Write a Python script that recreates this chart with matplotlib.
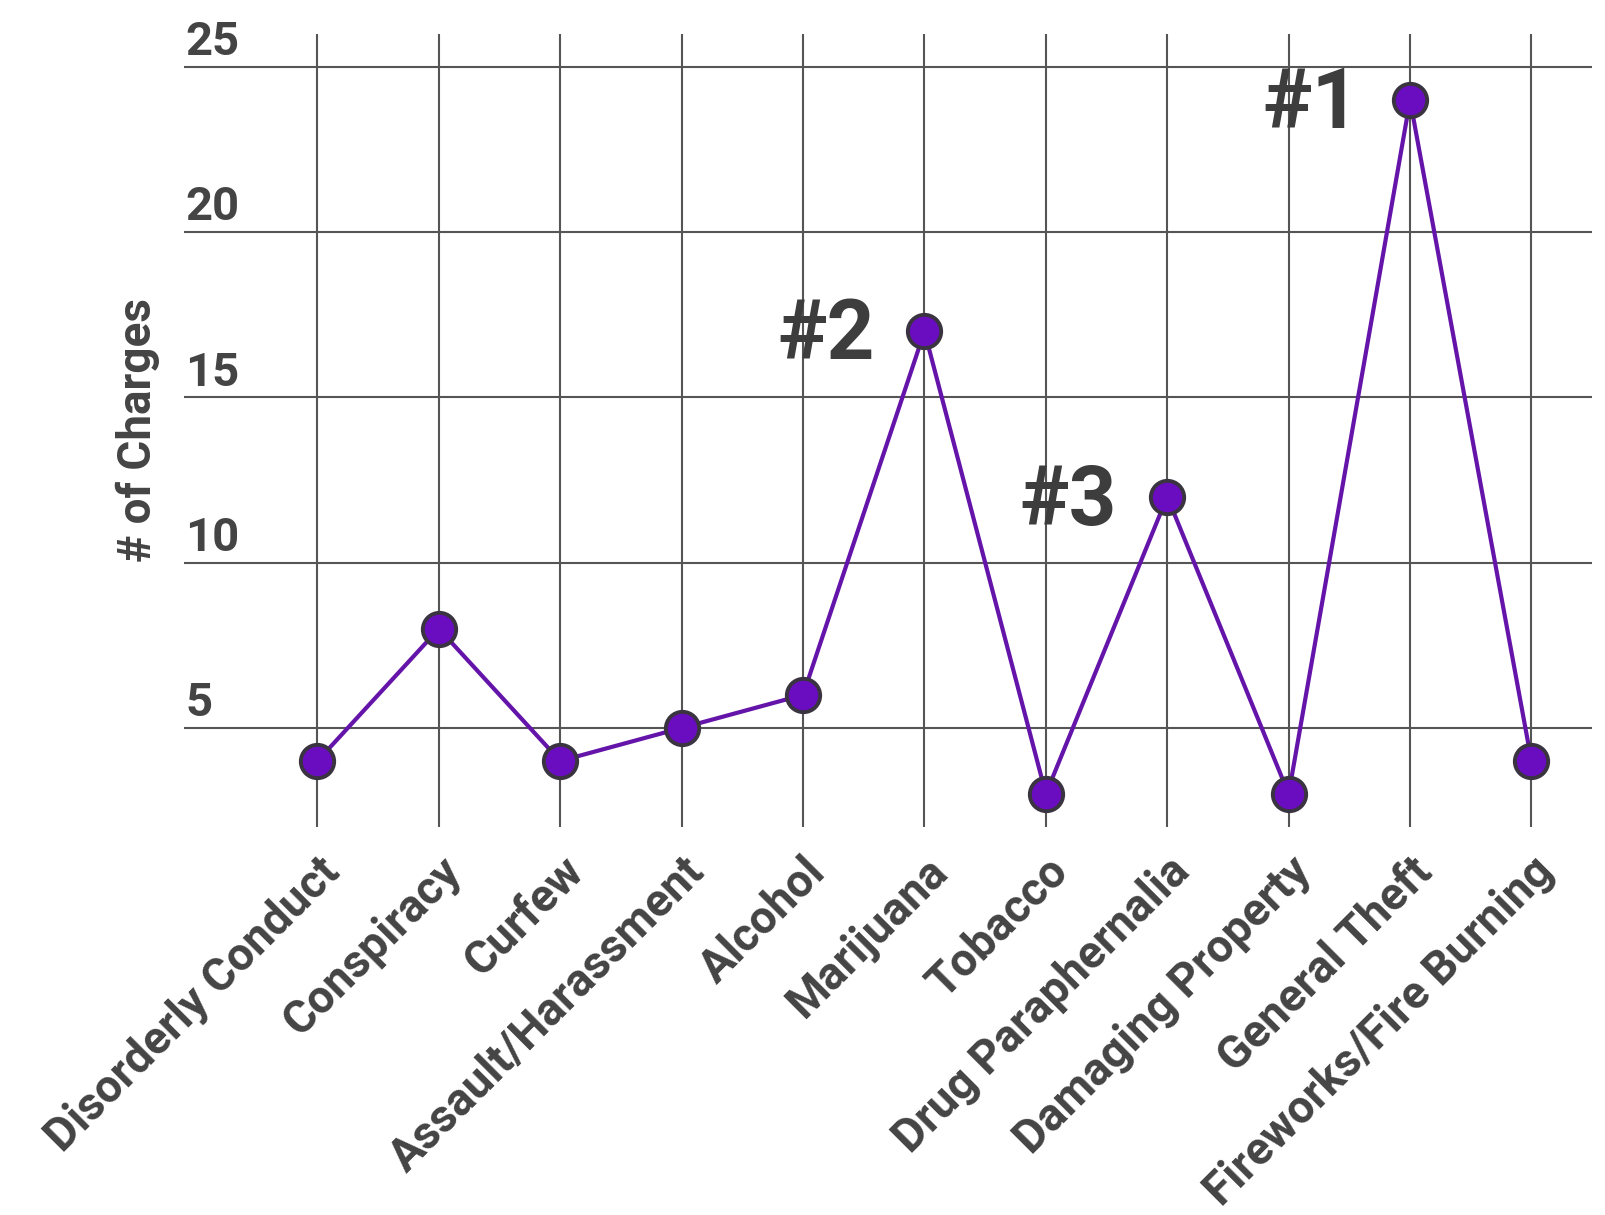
import matplotlib

matplotlib.use("Agg")
import matplotlib.pyplot as plt
from matplotlib.transforms import ScaledTranslation

categories = [
    "Disorderly Conduct", "Conspiracy", "Curfew", "Assault/Harassment", "Alcohol",
    "Marijuana", "Tobacco", "Drug Paraphernalia", "Damaging Property",
    "General Theft", "Fireworks/Fire Burning",
]
charges = [4, 8, 4, 5, 6, 17, 3, 12, 3, 24, 4]
y_ticks = [5, 10, 15, 20, 25]
ranks = {"General Theft": "#1", "Marijuana": "#2", "Drug Paraphernalia": "#3"}

plt.rcParams["font.family"] = ["Roboto", "DejaVu Sans"]
plt.rcParams["font.weight"] = "bold"
text_color = "#444444"
grid_color = "#555555"

fig = plt.figure(figsize=(16.05, 12.15), dpi=100)
ax = fig.add_axes([0.1146, 0.3193, 0.8774, 0.6527])

x = list(range(len(categories)))
ax.plot(x, charges, color="#6514aa", linewidth=3, zorder=3)
ax.plot(x, charges, linestyle="none", marker="o", markersize=24,
        markerfacecolor="#6a0dc0", markeredgecolor="#3a3340", markeredgewidth=2.8, zorder=4)

ax.set_xlim(-1.1, 10.5)
ax.set_ylim(2, 26)
for s in ax.spines.values():
    s.set_visible(False)

ax.set_yticks(y_ticks)
ax.set_yticklabels([])
ax.set_xticks(x)
ax.set_xticklabels(categories, rotation=45, ha="right", va="top",
                   rotation_mode="anchor", fontsize=33, color=text_color)
ax.tick_params(length=0)
ax.tick_params(axis="x", pad=16)
shift = ScaledTranslation(0.0, 0, fig.dpi_scale_trans)
for lbl in ax.get_xticklabels():
    lbl.set_transform(lbl.get_transform() + shift)

ax.grid(True, color=grid_color, linewidth=1.5)
ax.set_axisbelow(True)

for t in y_ticks:
    ax.annotate(str(t), xy=(0, t), xycoords=("axes fraction", "data"),
                xytext=(1, 2), textcoords="offset points",
                ha="left", va="bottom", fontsize=34, color=text_color)

fig.text(138 / 1605, 1 - 430 / 1215, "# of Charges", rotation=90,
         ha="center", va="center", fontsize=33, color=text_color)

for name, rank in ranks.items():
    i = categories.index(name)
    ax.annotate(rank, xy=(i, charges[i]), xytext=(-36, -4), textcoords="offset points",
                ha="right", va="center", fontsize=60, color="#3d3d3d")

fig.savefig("out.png", dpi=100)
